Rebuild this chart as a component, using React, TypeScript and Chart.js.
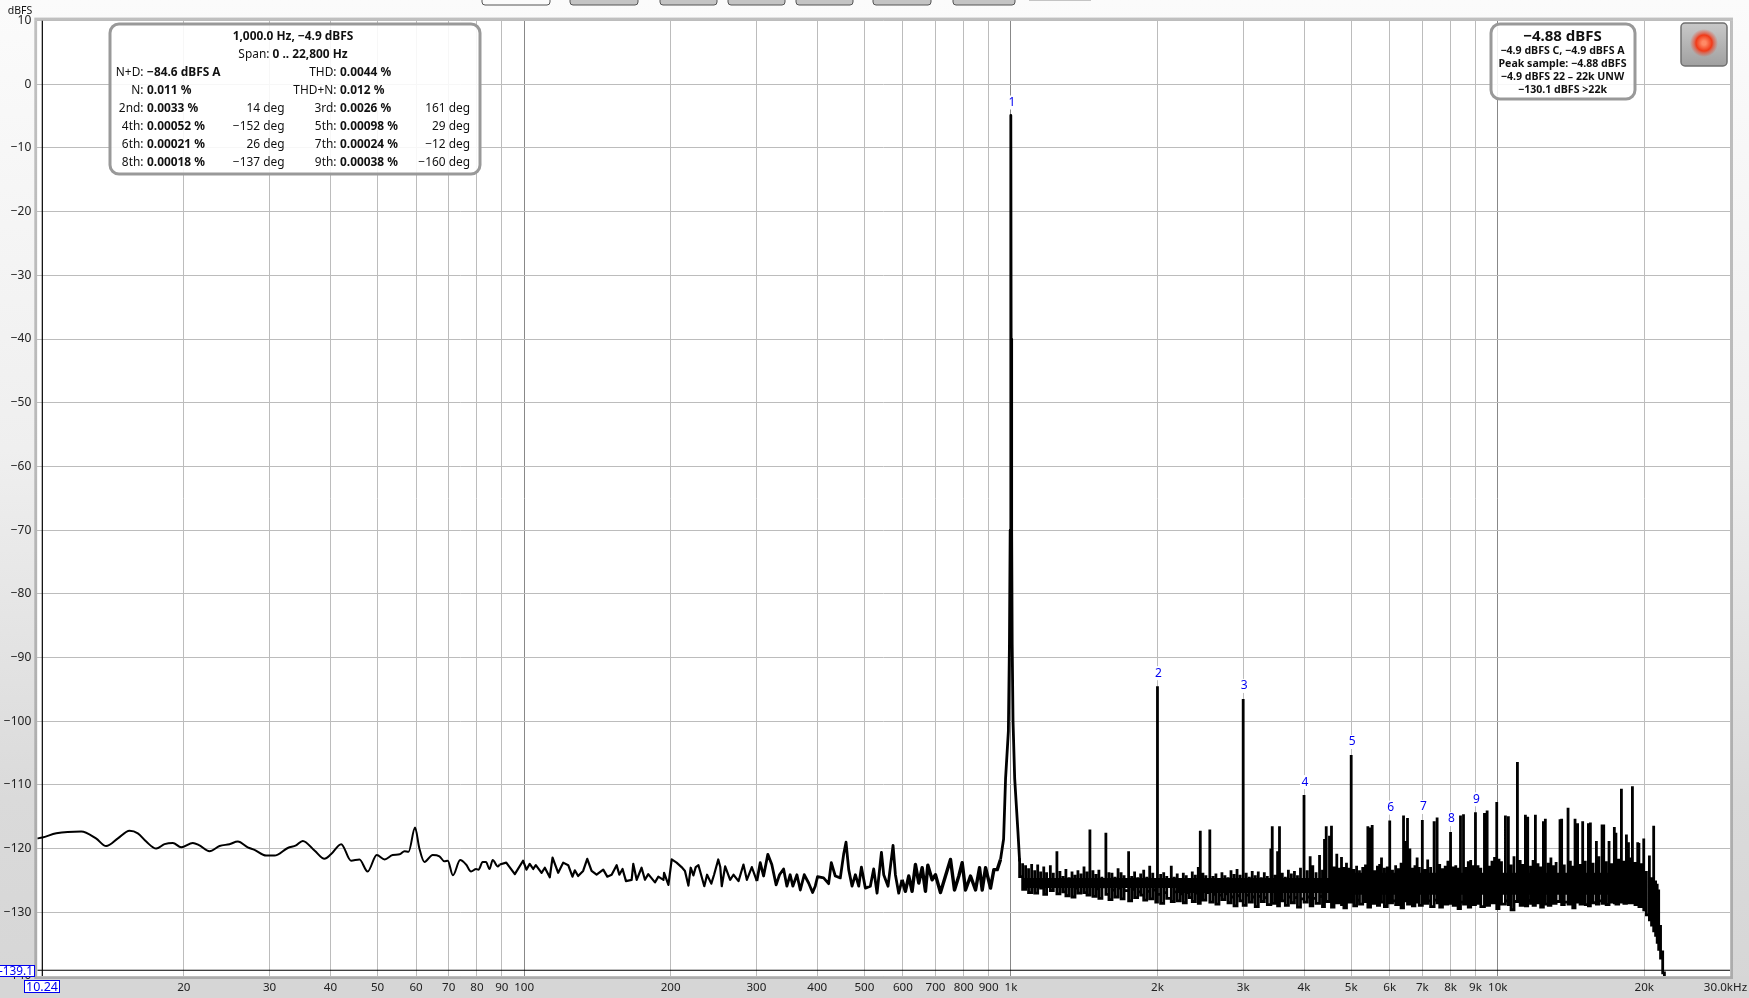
import React, { useEffect, useRef } from "react";
import { Chart, registerables } from "chart.js";

Chart.register(...registerables);

const FONT = '"Noto Sans", "DejaVu Sans", sans-serif';

// ---------- axes ----------
const xTickHz = [20, 30, 40, 50, 60, 70, 80, 90, 100, 200, 300, 400, 500, 600, 700, 800, 900, 1000, 2000, 3000, 4000, 5000, 6000, 7000, 8000, 9000, 10000, 20000, 30000];
const xTickText = ["20", "30", "40", "50", "60", "70", "80", "90", "100", "200", "300", "400", "500", "600", "700", "800", "900", "1k", "2k", "3k", "4k", "5k", "6k", "7k", "8k", "9k", "10k", "20k", "30.0kHz   "];
const decadeHz = [100, 1000, 10000];
const yTicks = [10, 0, -10, -20, -30, -40, -50, -60, -70, -80, -90, -100, -110, -120, -130, -140];

// ---------- cursor ----------
const cursorHz = 10.24;
const cursorDb = -139.1;

// ---------- low end of the spectrum ----------
const lowHz = [10, 10.24, 10.94, 12.31, 13.2, 13.85, 14.64, 15.47, 16.09, 16.74, 17.55, 18.25, 18.99, 19.75, 20.87, 21.54, 22.58, 23.68, 24.82, 25.82, 27.06, 27.94, 29.52, 30.7, 32.7, 34, 35.1, 37.1, 38.9, 40.1, 42.1, 44.1, 45.9, 47.7, 49.8, 51.7, 53.7, 55.5, 56.8, 57.9, 59.7, 60.9, 62.4, 64.9, 67, 68.6, 69.7, 71.4, 73.9, 76, 77.8, 79.7, 80.6, 82.2, 83.5, 84.9, 86.2, 88.3, 89.1];
const lowDb = [-118.4, -118.25, -117.6, -117.3, -118.4, -119.6, -118.4, -117.2, -117.6, -118.9, -120, -119.3, -119.1, -119.8, -119.1, -119.5, -120.4, -119.6, -119.3, -118.9, -119.8, -120.2, -121.1, -121.1, -119.9, -119.5, -118.8, -120.3, -121.6, -120.9, -119.3, -121.9, -121.7, -123.6, -121, -121.7, -121, -120.9, -120.4, -120.5, -116.7, -119.9, -122.1, -121, -121.2, -122, -121.9, -124.2, -121.8, -122.5, -123.6, -123.2, -123.3, -122.1, -122.1, -123.2, -121.8, -122.8, -122.5];

// ---------- 90 Hz to the fundamental ----------
const midHz = [89.1, 91.9, 95.7, 99.5, 101.1, 102.7, 104.4, 105.7, 108.6, 110.3, 112.9, 114.4, 117.5, 120.3, 123.2, 125.7, 127.1, 129.1, 132.2, 134.8, 137.6, 140.9, 145.4, 148.2, 151.3, 154.9, 156.9, 159.3, 161.9, 166.3, 167.6, 170.3, 174.3, 177.1, 179.9, 185.7, 188.7, 193.3, 193.9, 197.9, 201, 205.7, 210.6, 214, 217.5, 219.9, 222.7, 225.2, 228.1, 234.5, 237.6, 242.4, 245.6, 250.5, 252.9, 254.7, 258.8, 265, 269.2, 275.7, 282.2, 286.8, 293.6, 300.7, 305.5, 310.4, 316.7, 322.7, 329.4, 334.7, 341.2, 346.6, 352, 356.5, 363.4, 369.3, 376.2, 384.1, 391.4, 396.3, 400.7, 412.3, 422.2, 427.6, 435.7, 446.2, 453.3, 458.4, 464.3, 471.7, 479.2, 486.8, 493, 502.3, 514.3, 522.5, 530.9, 542, 547.9, 559.2, 572.6, 579, 588.2, 597.5, 607, 616.8, 626.6, 636.6, 646.7, 657.2, 667.5, 675, 688.8, 699.8, 716.6, 733.8, 751.4, 765.8, 781.6, 794.1, 806.7, 826, 845.9, 862, 873, 887, 908, 922.6, 937.4, 952];
const midDb = [-122.5, -122.2, -124, -121.9, -123.3, -122.4, -123.2, -122.6, -123.8, -123, -124.5, -121.4, -123.8, -122.2, -122.6, -124.4, -123.4, -124.3, -123.5, -121.6, -123.5, -124.1, -123.3, -124.4, -124.1, -122.6, -124.1, -123.2, -125.1, -124.9, -122.4, -124.9, -123, -124.9, -124, -125.3, -124.4, -124.9, -123.8, -125.7, -121.7, -122.2, -122.9, -123.5, -125.8, -123, -124.2, -122.9, -122.6, -125.9, -124.1, -125.5, -124.1, -121.7, -122.9, -125.9, -122.8, -124.9, -124.1, -125.1, -122.5, -124.9, -122.9, -125.1, -122.2, -124.3, -120.9, -122.5, -125.7, -124.1, -123.2, -125.9, -124.1, -125.9, -124.1, -126.5, -124.1, -125.4, -126.9, -125.9, -124.4, -124.6, -125.5, -122.2, -124.3, -124.6, -120.9, -119, -123.3, -125.9, -124.1, -125.9, -122.9, -126.2, -125.9, -123.2, -127, -120.6, -124.1, -125.9, -119.5, -124.1, -127, -124.9, -126.7, -124.3, -126.7, -122.5, -125.4, -123, -126.7, -122.6, -124.9, -124.1, -126.9, -124.3, -121.7, -126.5, -124.3, -122.2, -126.5, -124.3, -126.5, -123, -126.5, -123, -126.2, -123.3, -123.3, -121.7];

// ---------- the 1 kHz fundamental ----------
const peakHz = [952, 966, 975, 988, 993, 996.5, 999, 1000, 1001, 1003.5, 1006, 1010, 1018, 1034, 1042];
const peakDb = [-121.7, -118.5, -109, -101.6, -88, -70, -40, -4.9, -40, -70, -88, -100, -109, -117.5, -122];

// ---------- noise band, top and floor of the trace at each frequency ----------
const bandHz = [
  1042, 1057, 1072, 1087, 1103, 1119, 1135, 1151, 1168, 1184,
  1205, 1222, 1243, 1261, 1279, 1297, 1316, 1335, 1354, 1373,
  1393, 1413, 1433, 1453, 1474, 1495, 1516, 1538, 1567, 1590,
  1613, 1636, 1660, 1684, 1708, 1745, 1770, 1795, 1821, 1847,
  1874, 1901, 1928, 1956, 1984, 2000, 2030, 2060, 2090, 2135,
  2165, 2196, 2228, 2260, 2292, 2325, 2358, 2392, 2426, 2449,
  2480, 2515, 2562, 2600, 2637, 2675, 2713, 2752, 2792, 2832,
  2873, 2914, 2956, 3000, 3043, 3087, 3131, 3176, 3222, 3268,
  3315, 3363, 3420, 3442, 3490, 3530, 3562, 3610, 3662, 3715,
  3768, 3823, 3878, 3934, 4000, 4060, 4118, 4170, 4235, 4305,
  4365, 4407, 4443, 4512, 4555, 4610, 4671, 4730, 4776, 4830,
  4890, 4950, 5000, 5060, 5130, 5200, 5280, 5350, 5410, 5480,
  5522, 5590, 5660, 5720, 5771, 5850, 5930, 6000, 6080, 6170,
  6250, 6330, 6405, 6460, 6526, 6600, 6680, 6760, 6830, 6900,
  7000, 7090, 7180, 7280, 7401, 7507, 7600, 7700, 7800, 7900,
  8000, 8100, 8200, 8290, 8385, 8505, 8600, 8700, 8800, 8900,
  9000, 9110, 9230, 9391, 9511, 9620, 9730, 9850, 9953, 10060,
  10180, 10371, 10517, 10650, 10800, 10976, 11120, 11260, 11398, 11524,
  11680, 11820, 11950, 12100, 12250, 12410, 12526, 12700, 12860, 13020,
  13180, 13426, 13530, 13700, 13946, 14100, 14260, 14415, 14590, 14760,
  14945, 15130, 15354, 15500, 15700, 15946, 16130, 16380, 16510, 16700,
  16930, 17150, 17360, 17490, 17720, 17950, 18160, 18380, 18560, 18720,
  18910, 19140, 19390, 19500, 19700, 19950, 20200, 20490, 20700, 20910,
  21100, 21260, 21410, 21600, 21820, 22000,
];
const bandTop = [
  -121.5, -122.3, -122.6, -123.1, -122.4, -123.4, -122.5, -123.6, -122.8, -123.7,
  -122.6, -123.8, -120.4, -123.5, -124.3, -123.2, -124.5, -123.6, -124.1, -123.4,
  -123.9, -122.8, -123.6, -117, -123.4, -124, -123.3, -124.4, -117.5, -123.7,
  -123.8, -124.4, -123.1, -123.7, -124.2, -120.4, -124.3, -123.6, -124.5, -123.9,
  -123.3, -124.4, -122.7, -123.8, -124.6, -94.5, -124, -123.7, -124.3, -122.7,
  -124.4, -123.9, -124.6, -123.8, -124.2, -124.7, -123.6, -124.1, -122.9, -117.2,
  -123.8, -124.2, -117, -124.3, -123.9, -124.6, -123.7, -124.2, -124.5, -123.4,
  -124, -123.2, -124.1, -96.5, -123.8, -124.4, -123.5, -124.2, -123.6, -124.5,
  -123.7, -124.3, -120, -116.5, -124.1, -120.4, -116.5, -123.8, -124.4, -123.3,
  -123.9, -123.5, -124.2, -123, -111.6, -123.4, -121.2, -122.6, -123.7, -121,
  -123.3, -118.5, -116.5, -118, -116.4, -122.8, -120.8, -123, -121.3, -122.9,
  -122.2, -123, -105.3, -123.2, -122.7, -123.4, -122.9, -122.5, -116.5, -116.7,
  -116.3, -123.4, -122.7, -122.4, -121.4, -123, -122.8, -115.6, -123.3, -122.6,
  -123.1, -122.2, -114.8, -118.8, -115.2, -120, -123, -122.6, -121.4, -122.9,
  -115.5, -123.2, -121.7, -122.9, -115.7, -115.1, -122.4, -123.1, -122.7, -121.9,
  -117.4, -122.8, -122.6, -123, -114.8, -114.6, -122.9, -122, -121.8, -122.6,
  -114.3, -122.6, -123, -114.4, -114, -122.7, -121.9, -121.3, -112.7, -121.6,
  -122, -114.8, -114.9, -122.5, -121.2, -106.4, -121.8, -122.4, -114.7, -115,
  -122.7, -121.8, -114.7, -122.3, -122.8, -115.7, -115.3, -122.2, -121.4, -122.6,
  -122.1, -115.4, -115.3, -122.5, -113.6, -121.9, -122.7, -115.3, -116, -122.4,
  -115.7, -121.9, -116, -115.9, -122.2, -118.8, -121.2, -116.2, -116.2, -122,
  -118.8, -122.3, -116.6, -117.5, -121.6, -110.6, -121.9, -117.8, -119, -121.4,
  -110.2, -122.1, -119, -119.1, -122.3, -118.4, -123.5, -121.1, -124.5, -116.4,
  -125, -125.5, -126.4, -132, -136, -141,
];
const bandFloor = [
  -124.4, -126.4, -125, -126.9, -125.2, -127, -125.5, -126.2, -127.2, -125.6,
  -126.6, -125.7, -127.1, -125.8, -126.8, -127.4, -125.9, -127.6, -126.2, -127,
  -125.8, -126.9, -127.3, -125.9, -127.5, -126.3, -127.8, -126, -127.2, -128,
  -126.5, -127.6, -126.2, -127.9, -126.6, -128.2, -126.4, -127.7, -126.8, -127.3,
  -128.1, -126.7, -127.9, -126.5, -128.4, -127.2, -128.6, -126.9, -127.8, -128.3,
  -126.8, -128.2, -127.1, -128.5, -126.9, -127.7, -128.3, -127, -128.6, -127.4,
  -128.1, -126.9, -128.4, -127.2, -128.7, -127.3, -128, -127.1, -128.5, -127.6,
  -129, -127.4, -128.2, -128.9, -127.3, -128.4, -127.6, -129.1, -127.5, -128.3,
  -127.7, -128.8, -127.4, -128.6, -127.8, -129, -127.5, -128.2, -128.9, -127.6,
  -128.5, -127.7, -129.2, -127.9, -128.4, -127.6, -129, -127.8, -128.6, -127.5,
  -129.1, -127.9, -128.3, -127.7, -129.2, -127.8, -128.5, -127.6, -128.8, -129.3,
  -127.9, -128.4, -127.7, -129, -128.1, -128.7, -127.8, -128.3, -129.2, -128,
  -128.6, -127.9, -128.9, -128.1, -128.4, -129.1, -127.9, -128.5, -128.2, -128.8,
  -128, -129.3, -128.2, -127.9, -128.7, -128.3, -129, -128.1, -128.4, -128.9,
  -128, -128.6, -128.2, -129.1, -128.1, -128.5, -129.2, -128.3, -128.7, -128,
  -128.6, -128.9, -128.2, -129.4, -128.4, -128.7, -128, -129.2, -128.3, -128.8,
  -128.2, -128.6, -129.1, -128.3, -128.9, -128.1, -128.5, -127.9, -129.4, -128.3,
  -128.7, -128.2, -128.8, -129.6, -128.3, -128, -128.9, -128.4, -129, -128.2,
  -128.6, -128.9, -128.2, -128.5, -129.2, -128.3, -128.7, -128.9, -128.1, -128.6,
  -128.3, -128.1, -128.8, -128.4, -128.7, -128.1, -129.3, -128.4, -128.2, -128.7,
  -128.3, -128.8, -129, -128.1, -128.5, -128.7, -128.2, -128.6, -128.3, -128.8,
  -128.4, -128.1, -128.5, -128.7, -128, -128.4, -128.6, -128.2, -128.5, -128.3,
  -128.5, -128.8, -128.6, -129.1, -128.9, -129.6, -130.4, -131.2, -132, -132.9,
  -133.6, -134.7, -135.8, -137.2, -139.5, -142,
];

// ---------- where the noise trace is dense enough to read as solid black ----------
const coreLowHz = [1060, 20000];
const coreLowDb = [-125.4, -125.4];
const coreMidHz = [2200, 20200];
const coreMidDb = [-125.8, -125.8];
const coreHighHz = [5000, 20000];
const coreHighDb = [-125.5, -125.5];

// ---------- numbered harmonic markers ----------
const harmonicHz = [1000, 2000, 3000, 4000, 5000, 6000, 7000, 8000, 9000];
const harmonicDb = [-4.9, -94.5, -96.5, -111.6, -105.3, -115.6, -115.5, -117.4, -114.3];
const harmonicText = ["1", "2", "3", "4", "5", "6", "7", "8", "9"];

// ---------- read-out panels ----------
const headline = "1,000.0 Hz, \u22124.9 dBFS";
const spanLabel = "Span: ";
const spanValue = "0 .. 22,800 Hz";
const leftLabels = ["N+D:", "N:", "2nd:", "4th:", "6th:", "8th:"];
const leftValues = ["\u221284.6 dBFS A", "0.011 %", "0.0033 %", "0.00052 %", "0.00021 %", "0.00018 %"];
const leftPhases = ["", "", "14 deg", "\u2212152 deg", "26 deg", "\u2212137 deg"];
const rightLabels = ["THD:", "THD+N:", "3rd:", "5th:", "7th:", "9th:"];
const rightValues = ["0.0044 %", "0.012 %", "0.0026 %", "0.00098 %", "0.00024 %", "0.00038 %"];
const rightPhases = ["", "", "161 deg", "29 deg", "\u221212 deg", "\u2212160 deg"];
const levelTitle = "\u22124.88 dBFS";
const levelLines = ["\u22124.9 dBFS C, \u22124.9 dBFS A", "Peak sample: \u22124.88 dBFS", "\u22124.9 dBFS 22 \u2013 22k UNW", "\u2212130.1 dBFS >22k"];

const toPoints = (xs: number[], ys: number[]) => xs.map((x, i) => ({ x, y: ys[i] }));
const bandPoints = bandHz.flatMap((x, i) => [{ x, y: bandTop[i] }, { x, y: bandFloor[i] }]);

function roundRect(ctx: CanvasRenderingContext2D, x: number, y: number, w: number, h: number, r: number) {
  ctx.beginPath();
  ctx.roundRect(x, y, w, h, r);
}

const backdrop = {
  id: "backdrop",
  beforeDraw(chart: any) {
    const { ctx, chartArea: a, width, height } = chart;
    ctx.save();
    const g = ctx.createLinearGradient(0, 0, 0, height);
    g.addColorStop(0, "#fbfbfb");
    g.addColorStop(0.45, "#efefef");
    g.addColorStop(0.8, "#dadada");
    g.addColorStop(1, "#d6d6d6");
    ctx.fillStyle = g;
    ctx.fillRect(0, 0, width, height);
    ctx.fillStyle = "#d6d6d6";
    ctx.fillRect(0, a.bottom, width, height - a.bottom);
    // soft frame round the plot
    ctx.fillStyle = "rgba(120,120,120,0.45)";
    ctx.fillRect(a.left - 3, a.top - 3, a.width + 6, 3);
    ctx.fillRect(a.left - 3, a.bottom, a.width + 6, 3);
    ctx.fillRect(a.left - 3, a.top, 3, a.height);
    ctx.fillRect(a.right, a.top, 3, a.height);
    ctx.fillStyle = "#ffffff";
    ctx.fillRect(a.left, a.top, a.width, a.height);
    ctx.restore();
  },
};

const annotations = {
  id: "annotations",
  afterDraw(chart: any) {
    const { ctx, scales } = chart;
    const x = scales.x;
    const y = scales.y;
    ctx.save();
    ctx.textBaseline = "middle";

    // harmonic numbers, each on a small white patch that hides the grid behind it
    ctx.font = `12px ${FONT}`;
    ctx.textAlign = "center";
    harmonicHz.forEach((hz, i) => {
      const px = x.getPixelForValue(hz) + 1;
      const py = y.getPixelForValue(harmonicDb[i]) - 13;
      ctx.fillStyle = "#ffffff";
      ctx.fillRect(px - 5, py - 7, 10, 14);
      ctx.fillStyle = "#0000f0";
      ctx.fillText(harmonicText[i], px, py);
    });

    // unit
    ctx.fillStyle = "#111";
    ctx.font = `10.5px ${FONT}`;
    ctx.fillText("dBFS", 20, 11);

    // left read-out
    ctx.fillStyle = "rgba(255,255,255,0.88)";
    roundRect(ctx, 110, 24, 370, 150, 9);
    ctx.fill();
    ctx.strokeStyle = "#999";
    ctx.lineWidth = 3;
    ctx.stroke();
    ctx.fillStyle = "#111";
    ctx.font = `bold 11.9px ${FONT}`;
    ctx.textAlign = "center";
    ctx.fillText(headline, 293, 37);
    ctx.font = `11.9px ${FONT}`;
    const labelWidth = ctx.measureText(spanLabel).width;
    ctx.font = `bold 11.9px ${FONT}`;
    const valueWidth = ctx.measureText(spanValue).width;
    const spanLeft = 293 - (labelWidth + valueWidth) / 2;
    ctx.textAlign = "left";
    ctx.fillText(spanValue, spanLeft + labelWidth, 55);
    ctx.font = `11.9px ${FONT}`;
    ctx.fillText(spanLabel, spanLeft, 55);
    leftLabels.forEach((_, i) => {
      const rowY = 73 + i * 18;
      ctx.font = `11.9px ${FONT}`;
      ctx.textAlign = "right";
      ctx.fillText(leftLabels[i], 143.5, rowY);
      ctx.fillText(rightLabels[i], 336.5, rowY);
      ctx.fillText(leftPhases[i], 284.5, rowY);
      ctx.fillText(rightPhases[i], 470, rowY);
      ctx.font = `bold 11.9px ${FONT}`;
      ctx.textAlign = "left";
      ctx.fillText(leftValues[i], 147, rowY);
      ctx.fillText(rightValues[i], 340, rowY);
    });

    // right read-out
    ctx.fillStyle = "rgba(255,255,255,0.88)";
    roundRect(ctx, 1491, 24, 144, 75, 9);
    ctx.fill();
    ctx.strokeStyle = "#999";
    ctx.lineWidth = 3;
    ctx.stroke();
    ctx.fillStyle = "#111";
    ctx.textAlign = "center";
    ctx.font = `bold 15px ${FONT}`;
    ctx.fillText(levelTitle, 1562.5, 37);
    ctx.font = `bold 10.6px ${FONT}`;
    levelLines.forEach((t, i) => ctx.fillText(t, 1562.5, 51 + i * 13));

    // record button
    const bg = ctx.createLinearGradient(0, 23, 0, 66);
    bg.addColorStop(0, "#c9c9c9");
    bg.addColorStop(1, "#a0a0a0");
    ctx.fillStyle = bg;
    roundRect(ctx, 1681, 23, 46, 43, 4);
    ctx.fill();
    ctx.strokeStyle = "#6f6f6f";
    ctx.lineWidth = 1.5;
    ctx.stroke();
    const glow = ctx.createRadialGradient(1704, 43, 2, 1704, 43, 14);
    glow.addColorStop(0, "#ff8a66");
    glow.addColorStop(0.5, "#f03a18");
    glow.addColorStop(0.66, "rgba(240,60,30,0.6)");
    glow.addColorStop(1, "rgba(240,60,30,0)");
    ctx.fillStyle = glow;
    ctx.beginPath();
    ctx.arc(1704, 43, 14, 0, Math.PI * 2);
    ctx.fill();

    // top tool buttons (only their lower edges are in view)
    [[482, 68, "#fbfbfb"], [570, 68, "#c4c4c4"], [660, 57, "#c4c4c4"], [728, 57, "#c4c4c4"], [796, 57, "#c4c4c4"], [873, 58, "#c4c4c4"], [953, 62, "#c4c4c4"]].forEach(([bx, bw, col]: any) => {
      ctx.fillStyle = col;
      roundRect(ctx, bx, -8, bw, 13, 3);
      ctx.fill();
      ctx.strokeStyle = "#555";
      ctx.lineWidth = 1;
      ctx.stroke();
    });
    ctx.fillStyle = "#c4c4c4";
    ctx.fillRect(1029, 0, 62, 1);

    // cursor read-outs
    ctx.font = `11.8px ${FONT}`;
    ctx.lineWidth = 1;
    ctx.strokeStyle = "#0000f0";
    ctx.fillStyle = "#fff";
    ctx.fillRect(-2, 965, 37, 12);
    ctx.strokeRect(-2.5, 965.5, 37, 11);
    ctx.fillRect(24.5, 980.5, 35, 12);
    ctx.strokeRect(24.5, 980.5, 35, 12);
    ctx.fillStyle = "#0000f0";
    ctx.textAlign = "right";
    ctx.fillText(String(cursorDb), 33, 971.5);
    ctx.textAlign = "center";
    ctx.font = `12.5px ${FONT}`;
    ctx.fillText(String(cursorHz), 42, 987);
    ctx.restore();
  },
};

export default function App() {
  const ref = useRef<HTMLCanvasElement>(null);
  useEffect(() => {
    const chart = new Chart(ref.current as HTMLCanvasElement, {
      type: "line",
      data: {
        datasets: [
          { data: toPoints(lowHz, lowDb), borderColor: "#000", borderWidth: 2, pointRadius: 0, cubicInterpolationMode: "monotone", borderJoinStyle: "round" },
          {
            data: toPoints(midHz, midDb),
            borderColor: "#000",
            borderWidth: 2.2,
            pointRadius: 0,
            borderJoinStyle: "round",
            segment: { borderWidth: (c: any) => (c.p0.parsed.x > 590 ? 3.4 : c.p0.parsed.x > 300 ? 2.8 : 2.2) },
          },
          { data: toPoints(peakHz, peakDb), borderColor: "#000", borderWidth: 2.8, pointRadius: 0, borderJoinStyle: "round" },
          { data: toPoints(coreLowHz, coreLowDb), borderColor: "#000", borderWidth: 10, pointRadius: 0, borderCapStyle: "butt" },
          { data: toPoints(coreMidHz, coreMidDb), borderColor: "#000", borderWidth: 15, pointRadius: 0, borderCapStyle: "butt" },
          { data: toPoints(coreHighHz, coreHighDb), borderColor: "#000", borderWidth: 22, pointRadius: 0, borderCapStyle: "butt" },
          { data: bandPoints, borderColor: "#000", borderWidth: 2.8, pointRadius: 0, stepped: true, borderCapStyle: "butt", borderJoinStyle: "miter" },
          { data: [{ x: cursorHz, y: 10 }, { x: cursorHz, y: -140 }], borderColor: "#000", borderWidth: 1.2, pointRadius: 0 },
          { data: [{ x: 10, y: cursorDb }, { x: 30000, y: cursorDb }], borderColor: "#000", borderWidth: 1.2, pointRadius: 0 },
        ],
      } as any,
      options: {
        responsive: false,
        animation: false,
        events: [],
        layout: { padding: { left: 0, top: 20.6, right: 19, bottom: 0 } },
        plugins: { legend: { display: false }, tooltip: { enabled: false } },
        scales: {
          x: {
            type: "logarithmic",
            min: 10,
            max: 30000,
            afterBuildTicks(s: any) {
              s.ticks = xTickHz.map((value) => ({ value }));
            },
            afterFit(s: any) {
              s.height = 22;
              s.paddingLeft = 0;
              s.paddingRight = 0;
            },
            grid: {
              drawTicks: false,
              lineWidth: 1,
              color: (c: any) => (decadeHz.includes(c.tick?.value) ? "#888888" : "#bcbcbc"),
            },
            border: { display: false },
            ticks: {
              autoSkip: false,
              maxRotation: 0,
              padding: 5,
              color: "#222",
              font: { family: FONT, size: 11.6 },
              callback: (v: any) => {
                const i = xTickHz.indexOf(Number(v));
                return i < 0 ? "" : xTickText[i];
              },
            },
          },
          y: {
            type: "linear",
            min: -140,
            max: 10,
            afterBuildTicks(s: any) {
              s.ticks = yTicks.map((value) => ({ value }));
            },
            afterFit(s: any) {
              s.width = 37.3;
              s.paddingTop = 0;
              s.paddingBottom = 0;
            },
            grid: { drawTicks: false, lineWidth: 1, color: "#bcbcbc" },
            border: { display: false },
            ticks: {
              autoSkip: false,
              padding: 6,
              color: "#222",
              font: { family: FONT, size: 12 },
              callback: (v: any) => String(v).replace("-", "\u2212"),
            },
          },
        },
      },
      plugins: [backdrop, annotations],
    } as any);
    return () => chart.destroy();
  }, []);
  return (
    <div style={{ position: "absolute", left: 0, top: 0, width: 1749, height: 998, overflow: "hidden" }}>
      <canvas ref={ref} width={1749} height={998} style={{ display: "block" }} />
    </div>
  );
}
